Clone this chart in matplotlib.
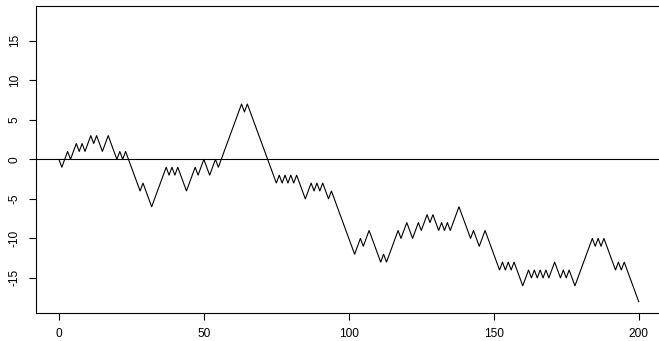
import matplotlib
matplotlib.use("Agg")
import matplotlib.pyplot as plt
import numpy as np

# Random walk position at each step 0..200
steps = list(range(0, 201))
walk = [
    0, -1, 0, 1, 0, 1, 2, 1, 2, 1,
    2, 3, 2, 3, 2, 1, 2, 3, 2, 1,
    0, 1, 0, 1, 0, -1, -2, -3, -4, -3,
    -4, -5, -6, -5, -4, -3, -2, -1, -2, -1,
    -2, -1, -2, -3, -4, -3, -2, -1, -2, -1,
    0, -1, -2, -1, 0, -1, 0, 1, 2, 3,
    4, 5, 6, 7, 6, 7, 6, 5, 4, 3,
    2, 1, 0, -1, -2, -3, -2, -3, -2, -3,
    -2, -3, -2, -3, -4, -5, -4, -3, -4, -3,
    -4, -3, -4, -5, -4, -5, -6, -7, -8, -9,
    -10, -11, -12, -11, -10, -11, -10, -9, -10, -11,
    -12, -13, -12, -13, -12, -11, -10, -9, -10, -9,
    -8, -9, -10, -9, -8, -9, -8, -7, -8, -7,
    -8, -9, -8, -9, -8, -9, -8, -7, -6, -7,
    -8, -9, -10, -9, -10, -11, -10, -9, -10, -11,
    -12, -13, -14, -13, -14, -13, -14, -13, -14, -15,
    -16, -15, -14, -15, -14, -15, -14, -15, -14, -15,
    -14, -13, -14, -15, -14, -15, -14, -15, -16, -15,
    -14, -13, -12, -11, -10, -11, -10, -11, -10, -11,
    -12, -13, -14, -13, -14, -13, -14, -15, -16, -17,
    -18,
]
x_ticks = [0, 50, 100, 150, 200]
y_ticks = [-15, -10, -5, 0, 5, 10, 15]
y_limit = 18

plt.rcParams['font.family'] = ['Liberation Sans', 'DejaVu Sans']
plt.rcParams['axes.unicode_minus'] = False

fig = plt.figure(figsize=(6.59, 3.41), dpi=100)
ax = fig.add_axes([0.0542, 0.0821, 0.9502, 0.9012])

ax.plot(steps, walk, color='black', linewidth=0.8)
ax.axhline(0, color='black', linewidth=0.8)

# R-style 4% padding around the data range
xr = max(steps) - min(steps)
ax.set_xlim(min(steps) - 0.04 * xr, max(steps) + 0.04 * xr)
ax.set_ylim(-y_limit - 0.08 * y_limit, y_limit + 0.08 * y_limit)

ax.set_xticks(x_ticks)
ax.set_yticks(y_ticks)
ax.set_xticklabels([str(v) for v in x_ticks])
ax.set_yticklabels([str(v) for v in y_ticks], rotation=90, va='center')
ax.tick_params(direction='out', length=5.2, width=0.8, labelsize=8.6,
               color='black', pad=5.5)
for s in ax.spines.values():
    s.set_linewidth(0.8)
    s.set_color('black')
# the box's right side falls past the canvas edge
ax.spines['right'].set_visible(False)

fig.savefig('out.png', dpi=100)
